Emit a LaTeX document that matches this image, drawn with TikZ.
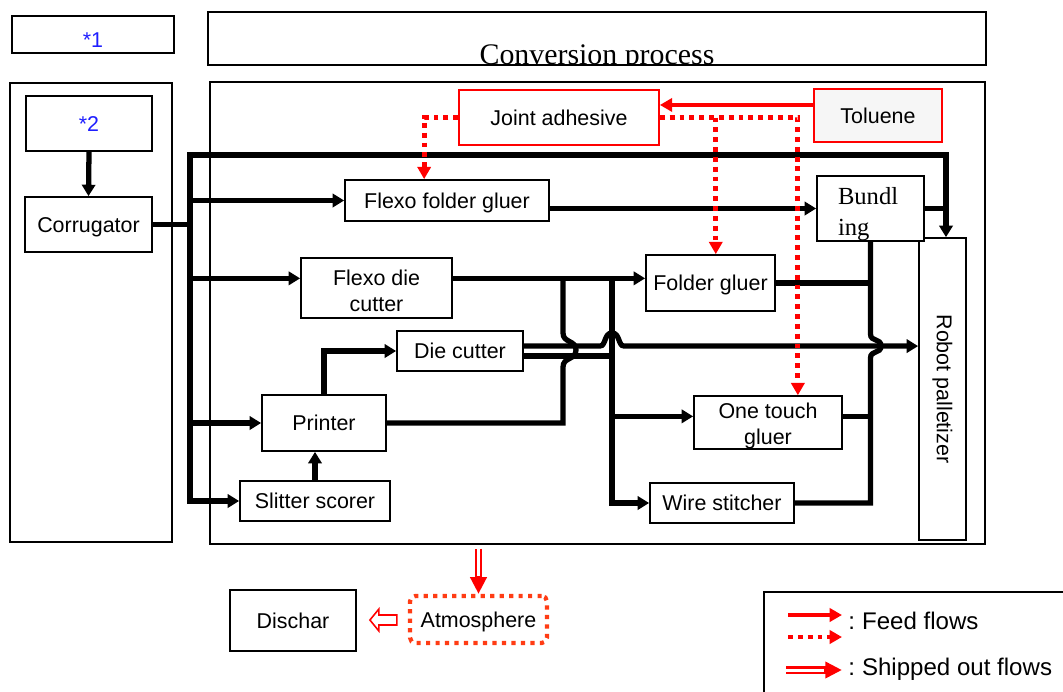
\documentclass[tikz,border=0pt]{standalone}
\usepackage{fontspec}
\setmainfont{Liberation Sans}
\newfontfamily\seriffont{Liberation Serif}
\usetikzlibrary{arrows.meta, positioning}
\definecolor{starblue}{RGB}{30,30,255}
\definecolor{atmred}{RGB}{255,60,20}
\definecolor{tolgray}{RGB}{246,246,246}

\begin{document}
\begin{tikzpicture}[x=0.02cm,y=-0.02cm,
    box/.style={draw,line width=1pt,fill=white,inner sep=0pt,align=center,font=\fontsize{12.2}{14.5}\selectfont},
    oneline/.style={text height=8.7pt,text depth=0pt},
    redbox/.style={box,oneline,draw=red},
    bus/.style={line width=3pt},
    flow/.style={bus,-{Triangle[length=6.5pt,width=7.5pt]}},
    feed/.style={draw=red,line width=2.8pt,-{Triangle[length=7pt,width=7.5pt]}},
    feeddot/.style={feed,dash pattern=on 2.8pt off 2.8pt},
    ship/.style={draw=red,line width=4.5pt,-{Triangle[length=9.5pt,width=9pt]}},
    shipgap/.style={draw=white,line width=1.7pt,shorten >=10pt}]
  \useasboundingbox (0,0) rectangle (1063,691);

  \node[box,minimum width=15.56cm,minimum height=1.06cm] (title) at (597,38.5) {};
  \begin{scope}
    \clip (title.south west) rectangle (title.north east);
    \node[anchor=base,inner sep=0pt,font=\seriffont\fontsize{17}{20}\selectfont] (titletxt) at (597,64) {Conversion process};
  \end{scope}
  \node[box,text height=14.9pt,text depth=0pt,minimum width=3.24cm,minimum height=0.74cm,text=starblue] (s1) at (93,34.5) {*1};
  \node[box,minimum width=3.24cm,minimum height=9.18cm] (left) at (91,312.5) {};
  \node[box,line width=1.2pt,minimum width=15.5cm,minimum height=9.24cm] (conv) at (597.5,313) {};

  \node[box,oneline,minimum width=2.52cm,minimum height=1.1cm,text=starblue] (s2) at (89,123.5) {*2};
  \node[box,oneline,minimum width=2.54cm,minimum height=1.1cm] (corr) at (88.5,224.5) {Corrugator};

  \node[redbox,minimum width=4cm,minimum height=1.1cm] (ja) at (559,117.5) {Joint adhesive};
  \node[redbox,fill=tolgray,minimum width=2.56cm,minimum height=1.06cm] (tol) at (878,115.5) {Toluene};
  \node[box,oneline,minimum width=4.08cm,minimum height=0.82cm] (ffg) at (447,200.5) {Flexo folder gluer};
  \node[box,minimum width=0.94cm,minimum height=6.04cm] (robot) at (942.5,389) {\rotatebox{-90}{Robot palletizer}};
  \node[box,minimum width=2.14cm,minimum height=1.22cm,align=left,inner xsep=0.42cm,text width=1.3cm,
        font=\seriffont\fontsize{14}{17.6}\selectfont] (bundl) at (870.5,208.5) {\rule{0pt}{16pt}Bundl\\ing};
  \node[box,minimum width=3.02cm,minimum height=1.2cm] (fdc) at (376.5,288) {\rule{0pt}{12pt}Flexo die\\cutter};
  \node[box,oneline,minimum width=2.58cm,minimum height=1.12cm] (fg) at (710.5,283) {Folder gluer};
  \node[box,oneline,minimum width=2.52cm,minimum height=0.8cm] (dc) at (460,351) {Die cutter};
  \node[box,oneline,minimum width=2.48cm,minimum height=1.12cm] (printer) at (324,423) {Printer};
  \node[box,minimum width=2.96cm,minimum height=1.02cm] (otg) at (768,422.5) {\rule{0pt}{13pt}One touch\\gluer};
  \node[box,oneline,minimum width=3cm,minimum height=0.8cm] (ss) at (315,501) {Slitter scorer};
  \node[box,oneline,minimum width=2.88cm,minimum height=0.8cm] (ws) at (722,503) {Wire stitcher};

  \node[box,oneline,minimum width=2.52cm,minimum height=1.22cm] (dischar) at (293,620.5) {Dischar};
  \node[box,oneline,draw=atmred,line width=2.4pt,dash pattern=on 2.4pt off 3pt,rounded corners=3pt,
        minimum width=2.74cm,minimum height=0.94cm] (atmos) at (478.5,619.5) {Atmosphere};

  \coordinate (t0) at (190,155);
  \coordinate (rtop) at ([xshift=2pt]robot.north);
  \coordinate (fy) at ([yshift=5.5pt]fdc.east);
  \coordinate (va) at (563,278);
  \coordinate (vb) at (612,278);
  \coordinate (dcu) at ([yshift=2.8pt]dc.east);
  \coordinate (dcl) at ([yshift=-2.8pt]dc.east);
  \coordinate (otgin) at ([yshift=3.5pt]otg.west);
  \coordinate (otgout) at ([yshift=3.5pt]otg.east);

  \draw[flow] (s2.south) -- (corr.north);
  \draw[bus] (corr.east) -- (corr.east -| t0);
  \draw[bus,{Triangle[length=6.5pt,width=7.5pt]}-{Triangle[length=6.5pt,width=7.5pt]}] (ss.west) -| (t0) -| (rtop);
  \draw[flow] (t0 |- ffg.west) -- (ffg.west);
  \draw[flow] (t0 |- fy) -- ([yshift=5.5pt]fdc.west);
  \draw[flow] (t0 |- printer.west) -- (printer.west);
  \draw[flow] (ffg.east |- bundl.west) -- (bundl.west);
  \draw[bus] (bundl.east) -- (bundl.east -| rtop);
  \draw[flow] (fy) -- (fy -| fg.west);
  \draw[flow] (ss.north) -- (ss.north |- printer.south);
  \draw[flow] (printer.north) |- (dc.west);
  \draw[bus] (printer.east) -| (563,367) .. controls (563,357) and (576,360) .. (576,350)
        .. controls (576,340) and (563,343) .. (563,333) -- (va);
  \draw[flow] (dcu) -- (600,346) .. controls (606,346) and (604,333) .. (612,333)
        .. controls (620,333) and (618,346) .. (624,346) -- (dcu -| robot.west);
  \draw[bus] (dcl) -- (dcl -| vb);
  \draw[flow] (vb) |- (ws.west);
  \draw[flow] (vb |- otgin) -- (otgin);
  \draw[bus] (bundl.south) -- (870.5,334) .. controls (870.5,342) and (881,338) .. (881,346)
        .. controls (881,354) and (870.5,350) .. (870.5,358) -- (bundl.south |- ws.east) -- (ws.east);
  \draw[bus] (fg.east) -- (fg.east -| bundl.south);
  \draw[bus] (otgout) -- (otgout -| bundl.south);

  \draw[feed] ([yshift=6pt]tol.west) -- ([yshift=6pt]tol.west -| ja.east);
  \draw[feeddot] (ja.west) -| ([xshift=-13pt]ffg.north);
  \draw[feeddot] (ja.east) -| ([xshift=17pt]otg.north);
  \draw[feeddot] ([xshift=3pt]fg.north |- ja.east) -- ([xshift=3pt]fg.north);

  \coordinate (sh) at (conv.south -| atmos.north);
  \draw[ship] ([yshift=-2pt]sh) -- (atmos.north);
  \draw[shipgap] ([yshift=-2pt]sh) -- (atmos.north);
  \draw[draw=red,line width=0.9pt,fill=white] (atmos.west) ++(-11,-4.5) -- ++(-18,0) -- ++(0,-6)
        -- ++(-9,11) -- ++(9,11) -- ++(0,-6) -- ++(18,0) -- cycle;

  \draw[line width=1pt] (1075,592) -- (764,592) -- (764,700);
  \coordinate (lfa) at (788,615);
  \coordinate (lfb) at (842,615);
  \coordinate (lda) at (788,637);
  \coordinate (ldb) at (842,637);
  \coordinate (lsa) at (786,670);
  \coordinate (lsb) at (842,670);
  \draw[feed] (lfa) -- (lfb);
  \draw[feeddot] (lda) -- (ldb);
  \draw[ship] (lsa) -- (lsb);
  \draw[shipgap] (lsa) -- (lsb);
  \node[anchor=west,inner sep=0pt,font=\fontsize{13.7}{16}\selectfont] (lfeed) at (848,621) {:\hspace{4pt}Feed flows};
  \node[anchor=west,inner sep=0pt,font=\fontsize{13.7}{16}\selectfont] (lship) at (848,669) {:\hspace{4pt}Shipped out flows};
\end{tikzpicture}
\end{document}
